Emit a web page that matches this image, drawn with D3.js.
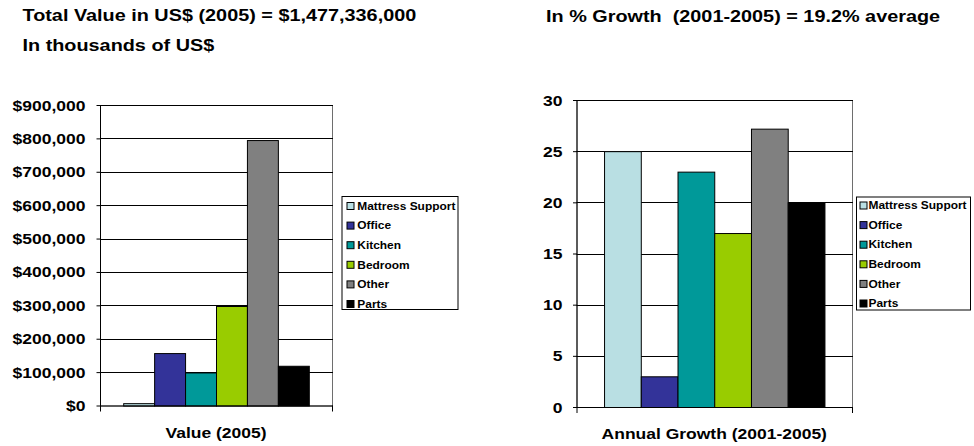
<!DOCTYPE html>
<html>
<head>
<meta charset="utf-8">
<script src="https://cdn.jsdelivr.net/npm/d3@7"></script>
<style>
  html, body { margin: 0; padding: 0; background: #fff; }
  svg text { font-family: "Liberation Sans", Arial, Helvetica, sans-serif; font-weight: bold; fill: #000; white-space: pre; }
</style>
</head>
<body>
<svg id="chart" width="974" height="446"></svg>
<script>
// Furniture segments and their colours
const categories = ["Mattress Support", "Office", "Kitchen", "Bedroom", "Other", "Parts"];
const colors = ["#B9DFE3", "#333399", "#009999", "#99CC00", "#808080", "#000000"];

// 2005 value by segment, thousands of US$
const value2005 = [7000, 157000, 99000, 298000, 795000, 119000];
// Average annual growth 2001-2005, %
const growth = [25, 3, 23, 17, 27.2, 20];

const valueTicks = [0, 100000, 200000, 300000, 400000, 500000, 600000, 700000, 800000, 900000];
const growthTicks = [0, 5, 10, 15, 20, 25, 30];

const titles = [
  "Total Value in US$ (2005) = $1,477,336,000",
  "In thousands of US$",
  "In % Growth  (2001-2005) = 19.2% average"
];
const axisTitles = ["Value (2005)", "Annual Growth (2001-2005)"];

// all lettering is set wide horizontally
const SX = 1.25;
const SX_TITLE = 1.24;

const svg = d3.select("#chart");

function title(txt, x, y) {
  svg.append("text")
    .attr("transform", `translate(${x},${y}) scale(${SX_TITLE},1)`)
    .style("font-size", "16px").text(txt);
}
title(titles[0], 22.5, 21);
title(titles[1], 22.5, 50.5);
title(titles[2], 546, 22);

function panel(cfg) {
  const g = svg.append("g");
  const x = d3.scaleBand().domain(categories).range([cfg.x0, cfg.x1]).paddingInner(0).paddingOuter(0.75);
  const y = d3.scaleLinear().domain([0, cfg.max]).range([cfg.y1, cfg.y0]);

  // plot frame
  g.append("rect")
    .attr("x", cfg.x0 + 0.5).attr("y", cfg.y0 + 0.5)
    .attr("width", cfg.x1 - cfg.x0).attr("height", cfg.y1 - cfg.y0)
    .attr("fill", "#fff").attr("stroke", "#6e6e6e");

  // gridlines
  g.selectAll("line.grid").data(cfg.ticks.filter(t => t > 0)).join("line")
    .attr("class", "grid")
    .attr("x1", cfg.x0).attr("x2", cfg.x1 + 1)
    .attr("y1", d => Math.round(y(d)) + 0.5).attr("y2", d => Math.round(y(d)) + 0.5)
    .attr("stroke", "#000");

  // bars
  g.selectAll("rect.bar").data(cfg.values).join("rect")
    .attr("class", "bar")
    .attr("x", (d, i) => x(categories[i]) + 0.5)
    .attr("y", d => y(d) + 0.5)
    .attr("width", x.bandwidth())
    .attr("height", d => y(0) - y(d))
    .attr("fill", (d, i) => colors[i])
    .attr("stroke", "#000").attr("stroke-width", 1);

  // value axis
  const k = cfg.labelGap;
  const ax = g.append("g")
    .attr("transform", `translate(${cfg.x0 + 0.5},0)`)
    .call(d3.axisLeft(y).tickValues(cfg.ticks).tickFormat(cfg.format).tickSize(4).tickPadding(k - 4));
  ax.attr("font-family", null).attr("font-size", null);
  ax.select(".domain").attr("stroke", "#000").attr("d", `M0,${cfg.y0}V${cfg.y1 + 0.5}`);
  ax.selectAll(".tick line").attr("stroke", "#000");
  ax.selectAll(".tick text")
    .attr("x", -k / SX).attr("dy", "0.36em")
    .attr("transform", `scale(${SX},1)`)
    .style("font-size", "14px");

  // category axis with end ticks
  g.append("line").attr("x1", cfg.x0).attr("x2", cfg.x1 + 1)
    .attr("y1", cfg.y1 + 0.5).attr("y2", cfg.y1 + 0.5).attr("stroke", "#000");
  [cfg.x0, cfg.x1].forEach(px => {
    g.append("line").attr("x1", px + 0.5).attr("x2", px + 0.5)
      .attr("y1", cfg.y1).attr("y2", cfg.y1 + 6).attr("stroke", "#000");
  });
  g.append("text")
    .attr("transform", `translate(${(cfg.x0 + cfg.x1) / 2},${cfg.axisTitleY}) scale(${SX},1)`)
    .attr("text-anchor", "middle").style("font-size", "14px")
    .text(cfg.axisTitle);

  // legend
  const L = cfg.legend;
  const lg = g.append("g");
  lg.append("rect").attr("x", L.x + 0.5).attr("y", L.y + 0.5).attr("width", L.w).attr("height", L.h)
    .attr("fill", "#fff").attr("stroke", "#000");
  categories.forEach((c, i) => {
    const cy = L.y + L.first + i * L.step;
    lg.append("rect").attr("x", L.x + L.sw + 0.5).attr("y", cy - 3.5).attr("width", 7).attr("height", 7)
      .attr("fill", colors[i]).attr("stroke", "#000");
    lg.append("text")
      .attr("transform", `translate(${L.x + L.tx},${cy + 3.7}) scale(1.17,1)`)
      .style("font-size", "10.2px").text(c);
  });
}

panel({
  x0: 100, x1: 332, y0: 105, y1: 405.5, max: 900000,
  values: value2005, ticks: valueTicks, format: d3.format("$,"),
  labelGap: 15, axisTitle: axisTitles[0], axisTitleY: 437.5,
  legend: { x: 341.5, y: 196, w: 116, h: 113, first: 10, step: 19.6, sw: 5, tx: 15.8 }
});

panel({
  x0: 576.5, x1: 852, y0: 100, y1: 407, max: 30,
  values: growth, ticks: growthTicks, format: d3.format("d"),
  labelGap: 14.5, axisTitle: axisTitles[1], axisTitleY: 439,
  legend: { x: 856, y: 196.5, w: 114, h: 113, first: 9, step: 19.6, sw: 3.5, tx: 12.5 }
});
</script>
</body>
</html>
